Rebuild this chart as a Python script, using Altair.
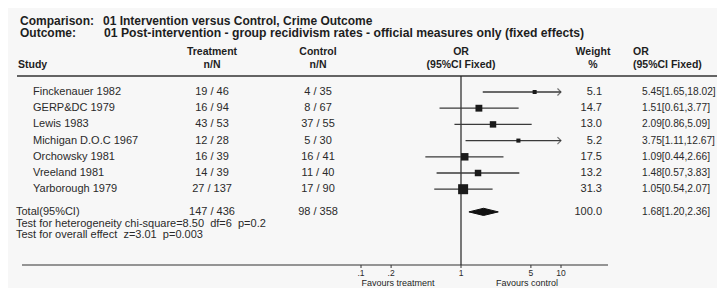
import altair as alt
import pandas as pd

# ---------------- data ----------------
studies = ["Finckenauer 1982", "GERP&DC 1979", "Lewis 1983", "Michigan D.O.C 1967",
           "Orchowsky 1981", "Vreeland 1981", "Yarborough 1979"]
treat = ["19 / 46", "16 / 94", "43 / 53", "12 / 28", "16 / 39", "14 / 39", "27 / 137"]
control = ["4 / 35", "8 / 67", "37 / 55", "5 / 30", "16 / 41", "11 / 40", "17 / 90"]
weight = [5.1, 14.7, 13.0, 5.2, 17.5, 13.2, 31.3]
odds = [5.45, 1.51, 2.09, 3.75, 1.09, 1.48, 1.05]
lo = [1.65, 0.61, 0.86, 1.11, 0.44, 0.57, 0.54]
hi = [18.02, 3.77, 5.09, 12.67, 2.66, 3.83, 2.07]

total_label = "Total(95%CI)"
total_treat = "147 / 436"
total_control = "98 / 358"
total_weight = 100.0
total_or, total_lo, total_hi = 1.68, 1.20, 2.36

SP = "\u00a0"
hetero = f"Test for heterogeneity chi-square=8.50{SP} df=6{SP} p=0.2"
overall = f"Test for overall effect{SP} z=3.01{SP} p=0.003"

tick_vals = [0.1, 0.2, 1, 5, 10]
tick_labels = [".1", ".2", "1", "5", "10"]
xmin, xmax = 0.1, 10

FONT = "Liberation Sans"
TXT = "#2a2a2a"
FS = 11
FS_OR = 10.2

rows = list(range(len(studies)))
TOTAL_ROW = 7.4

df = pd.DataFrame({
    "row": rows, "study": studies, "treat": treat, "control": control,
    "weight": weight, "or": odds, "lo": lo, "hi": hi,
})
df["hi_c"] = df["hi"].clip(upper=xmax)
df["lo_c"] = df["lo"].clip(lower=xmin)
df["w_txt"] = df["weight"].map(lambda v: f"{v:.1f}")
df["or_txt"] = [f"{o:.2f}[{l:.2f},{h:.2f}]" for o, l, h in zip(odds, lo, hi)]

xs = alt.Scale(type="log", domain=[xmin, xmax], range=[353, 553], nice=False, zero=False)
ys = alt.Scale(domain=[0, 6], range=[84, 181.2], nice=False, zero=False)

X = lambda f: alt.X(f, type="quantitative", scale=xs, axis=None)
Y = lambda f: alt.Y(f, type="quantitative", scale=ys, axis=None)

base = alt.Chart(df)

def col_text(field, xpos, align="left", size=FS):
    return base.mark_text(align=align, baseline="middle", font=FONT, fontSize=size, color=TXT).encode(
        x=alt.value(xpos), y=Y("row"), text=alt.Text(field, type="nominal"))

# study table columns
t_study = col_text("study", 25)
t_treat = col_text("treat", 204, "center")
t_ctrl = col_text("control", 310, "center")
t_w = col_text("w_txt", 594, "right")
t_or = col_text("or_txt", 634, "left", FS_OR)

# CI lines
ci = base.mark_rule(color="#3a3a3a", strokeWidth=1.3).encode(
    x=X("lo_c"), x2=alt.X2("hi_c"), y=Y("row"))
sq = base.mark_square(color="#1a1a1a", opacity=1).encode(
    x=X("or"), y=Y("row"),
    size=alt.Size("weight", type="quantitative",
                  scale=alt.Scale(type="linear", domain=[0, 31.3], range=[0, 100]), legend=None))
arrows = alt.Chart(df[df["hi"] > xmax]).mark_point(
    shape="M-1,-1L0,0L-1,1", filled=False, stroke="#3a3a3a", strokeWidth=1.2, size=50
).encode(x=X("hi_c"), y=Y("row"))

# total row
tot_df = pd.DataFrame({"row": [TOTAL_ROW]})
tot_texts = []
for txt, xp, al, fs in [(total_label, 8, "left", FS), (total_treat, 204, "center", FS),
                        (total_control, 310, "center", FS),
                        (f"{total_weight:.1f}", 594, "right", FS),
                        (f"{total_or:.2f}[{total_lo:.2f},{total_hi:.2f}]", 634, "left", FS_OR)]:
    tot_texts.append(alt.Chart(tot_df).mark_text(align=al, baseline="middle", font=FONT, fontSize=fs,
                                                 color=TXT, text=txt).encode(x=alt.value(xp), y=Y("row")))

# diamond
dh = 3.6 / 16.2
dia_df = pd.DataFrame({
    "x": [total_lo, total_or, total_hi],
    "y": [TOTAL_ROW, TOTAL_ROW - dh, TOTAL_ROW],
    "y2": [TOTAL_ROW, TOTAL_ROW + dh, TOTAL_ROW],
})
diamond = alt.Chart(dia_df).mark_area(color="#111111", stroke="#111111", strokeWidth=1).encode(
    x=X("x"), y=Y("y"), y2=alt.Y2("y2"))

# test texts
stat_df = pd.DataFrame({"txt": [hetero, overall], "row": [TOTAL_ROW + 0.77, TOTAL_ROW + 1.45]})
stats = alt.Chart(stat_df).mark_text(align="left", baseline="middle", font=FONT, fontSize=FS, color=TXT).encode(
    x=alt.value(8), y=Y("row"), text="txt:N")

AXIS_Y = 257

# reference line at OR = 1
one_df = pd.DataFrame({"x": [1]})
vline = alt.Chart(one_df).mark_rule(color="#222222", strokeWidth=1.2).encode(
    x=X("x"), y=alt.value(68), y2=alt.value(AXIS_Y))

# header line and axis line
hline_top = alt.Chart(one_df).mark_rule(color="#333333", strokeWidth=1.3).encode(
    x=alt.value(9), x2=alt.value(709), y=alt.value(68))
hline_axis = alt.Chart(one_df).mark_rule(color="#333333", strokeWidth=1.2).encode(
    x=alt.value(14), x2=alt.value(600), y=alt.value(AXIS_Y))

# axis ticks and labels
tick_df = pd.DataFrame({"v": tick_vals, "lab": tick_labels})
ticks = alt.Chart(tick_df).mark_rule(color="#333333", strokeWidth=1).encode(
    x=X("v"), y=alt.value(AXIS_Y), y2=alt.value(AXIS_Y + 3))
tick_text = alt.Chart(tick_df).mark_text(baseline="middle", font=FONT, fontSize=8.5, color=TXT).encode(
    x=X("v"), y=alt.value(AXIS_Y + 8), text="lab:N")

# headers
def label(txt, xp, yp, al="left", size=10.5, bold=True, base_="middle"):
    return alt.Chart(one_df).mark_text(align=al, baseline=base_, font=FONT, fontSize=size,
                                       fontWeight="bold" if bold else "normal", color="#1e1e1e",
                                       text=txt).encode(x=alt.value(xp), y=alt.value(yp))

headers = [
    label("Comparison:", 12, 12.5, size=12),
    label("01 Intervention versus Control, Crime Outcome", 95, 12.5, size=12),
    label("Outcome:", 12, 25, size=12),
    label("01 Post-intervention - group recidivism rates - official measures only (fixed effects)", 96, 25, size=12.2),
    label("Treatment", 204, 44, "center"),
    label("n/N", 204, 57, "center"),
    label("Control", 310, 44, "center"),
    label("n/N", 310, 57, "center"),
    label("Study", 10, 57),
    label("OR", 453, 44, "center"),
    label("(95%CI Fixed)", 453, 57, "center"),
    label("Weight", 585, 44, "center"),
    label("%", 585, 57, "center"),
    label("OR", 625, 44),
    label("(95%CI Fixed)", 625, 57),
    label("Favours treatment", 390, 280, "center", size=9, bold=False, base_="bottom"),
    label("Favours control", 519, 280, "center", size=9, bold=False, base_="bottom"),
]

chart = alt.layer(
    hline_top, hline_axis, vline, ci, arrows, sq, diamond, ticks, tick_text,
    t_study, t_treat, t_ctrl, t_w, t_or, *tot_texts, stats, *headers
).properties(
    width=709, height=280, padding=0, autosize=alt.AutoSizeParams(type="none"),
    background="#f7f7f7"
).configure_view(stroke=None)

chart.save("out.html", embed_options={"renderer": "svg", "actions": False})
